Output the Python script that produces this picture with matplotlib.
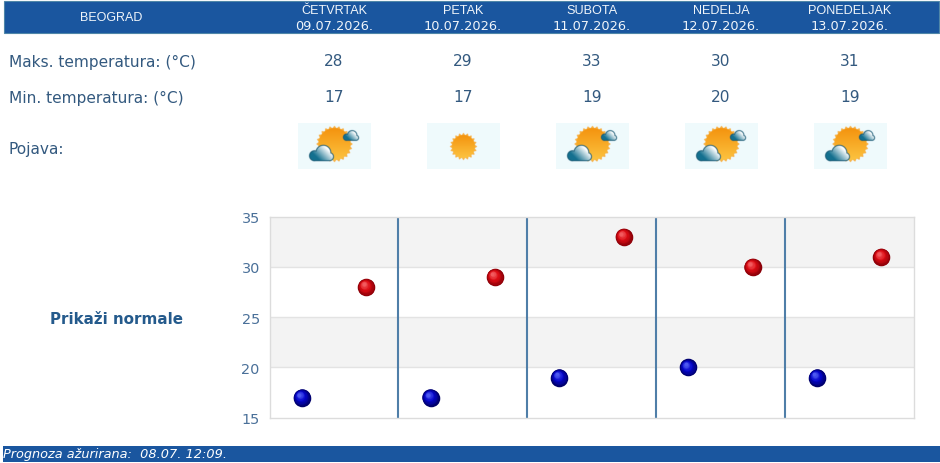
import numpy as np
import matplotlib
matplotlib.use('Agg')
import matplotlib.pyplot as plt
from matplotlib.patches import Rectangle
from matplotlib.transforms import offset_copy

city = 'BEOGRAD'
days = ['ČETVRTAK', 'PETAK', 'SUBOTA', 'NEDELJA', 'PONEDELJAK']
dates = ['09.07.2026.', '10.07.2026.', '11.07.2026.', '12.07.2026.', '13.07.2026.']
t_max = [28, 29, 33, 30, 31]
t_min = [17, 17, 19, 20, 19]
icons = ['clouds', 'sun', 'clouds', 'clouds', 'clouds']
y_ticks = [15, 20, 25, 30, 35]

BLUE = '#1a569f'
TEXT = '#33597f'
W, H = 940, 464
col_x = [334, 463, 592, 721, 850]


def mix(c1, c2, t):
    c1, c2 = np.array(c1), np.array(c2)
    return c1 + (c2 - c1) * t[..., None]


def rgb(h):
    return np.array(matplotlib.colors.to_rgb(h))


def smooth_mask(d, aa=0.5):
    # d is negative inside the shape, in pixels
    return np.clip(0.5 - d / (2 * aa), 0, 1)


def paint(img, col, alpha):
    a = alpha[..., None]
    img[..., :3] = img[..., :3] * (1 - a) + col * a
    return img


def cloud(img, X, Y, cx, cy, w):
    # dome with a lower bump each side, dark rim around a white to teal fill
    s = w / 24.0
    parts = [(-6.8, 2.7, 4.9), (1.8, -0.2, 7.3), (7.8, 3.6, 3.9)]
    d = np.full(X.shape, 1e3)
    for px, py, r in parts:
        d = np.minimum(d, np.hypot(X - (cx + px * s), Y - (cy + py * s)) - r * s)
    base = np.maximum(np.abs(X - cx) - 7.5 * s, np.abs(Y - cy - 5 * s) - 2.5 * s)
    d = np.minimum(d, base)
    paint(img, rgb('#1a5a74'), smooth_mask(d - 0.5))
    t = np.clip(((cx + 6 * s - X) * 0.8 + (Y - cy + 4 * s) * 0.8) / (15 * s), 0, 1)
    fill = mix(rgb('#ffffff'), rgb('#14708f'), t)
    a = smooth_mask(d + 0.4)[..., None]
    img[..., :3] = img[..., :3] * (1 - a) + fill * a
    return img


def make_icon(kind, w=73, h=46, ss=4):
    ys, xs = np.mgrid[0:h * ss, 0:w * ss]
    X = (xs + 0.5) / ss
    Y = (ys + 0.5) / ss
    img = np.ones((h * ss, w * ss, 3)) * rgb('#effafd')
    has_clouds = kind == 'clouds'
    cx = w / 2
    cy = 21.0 if has_clouds else 23.5
    r_body = 16.0 if has_clouds else 11.5
    ang = np.arctan2(Y - cy, X - cx)
    rr = np.hypot(X - cx, Y - cy)
    rays = r_body + 1.0 + 1.0 * np.cos(ang * (24 if has_clouds else 20))
    paint(img, rgb('#f6b24a'), smooth_mask(rr - rays))
    t = np.clip((Y - (cy - r_body)) / (2 * r_body), 0, 1)
    body = mix(rgb('#f4930e'), rgb('#fcc340'), t)
    a = smooth_mask(rr - r_body)[..., None]
    img[..., :3] = img[..., :3] * (1 - a) + body * a
    if has_clouds:
        cloud(img, X, Y, cx + 16.5, cy - 8.5, 15.5)
        cloud(img, X, Y, cx - 13, cy + 9, 24.5)
    return img


fig = plt.figure(figsize=(W / 100, H / 100), dpi=100, facecolor='white')

# page layer, one unit per pixel
page = fig.add_axes([0, 0, 1, 1])
page.set_xlim(0, W)
page.set_ylim(H, 0)
page.axis('off')

page.add_patch(Rectangle((3.5, 1.5), 935, 32, fc=BLUE, ec='#4f86a8', lw=0.8))
page.add_patch(Rectangle((3, 446.5), 937, 16, fc=BLUE, ec='none'))

page.text(111, 18, city, color='#f0f5fa', fontsize=9, family='Liberation Sans',
          ha='center', va='center')
for x, day, date in zip(col_x, days, dates):
    page.text(x, 10.5, day, color='#f0f5fa', fontsize=9.1, family='Liberation Sans',
              ha='center', va='center')
    page.text(x, 27, date, color='#f0f5fa', fontsize=9.3, ha='center', va='center')

LABEL_SIZE = 11.1
page.text(9, 62, 'Maks. temperatura: (°C)', color=TEXT, fontsize=LABEL_SIZE, va='center')
page.text(9, 98, 'Min. temperatura: (°C)', color=TEXT, fontsize=LABEL_SIZE, va='center')
page.text(9, 150, 'Pojava:', color=TEXT, fontsize=LABEL_SIZE, va='center')

for x, hi, lo, kind in zip(col_x, t_max, t_min, icons):
    page.text(x, 62, str(hi), color=TEXT, fontsize=LABEL_SIZE, ha='center', va='center')
    page.text(x, 98, str(lo), color=TEXT, fontsize=LABEL_SIZE, ha='center', va='center')
    page.imshow(make_icon(kind), extent=(x - 36.5, x + 36.5, 170.5, 124.5),
                aspect='auto', interpolation='antialiased', zorder=2)
page.set_xlim(0, W)
page.set_ylim(H, 0)

page.text(116.5, 319.5, 'Prikaži normale', color='#245a8c', fontsize=10.9,
          fontweight='bold', ha='center', va='center')
page.text(3, 455, 'Prognoza ažurirana:  08.07. 12:09.', color='white', fontsize=9.3,
          style='italic', va='center')

# temperature chart
ax = fig.add_axes([269.5 / W, 1 - 418.7 / H, 644 / W, 201 / H], facecolor='white')
n = len(days)
ax.set_xlim(0, n)
ax.set_ylim(y_ticks[0], y_ticks[-1])
ax.axhspan(20, 25, fc='#f3f3f3', ec='none', zorder=0)
ax.axhspan(30, 35, fc='#f3f3f3', ec='none', zorder=0)
for v in y_ticks[1:-1]:
    ax.axhline(v, color='#e3e3e3', lw=1, zorder=1)
for i in range(1, n):
    ax.axvline(i, color='#4f7ea8', lw=1.5, zorder=2)
for s in ax.spines.values():
    s.set_color('#dcdcdc')
    s.set_linewidth(1)
ax.set_xticks([])
ax.set_yticks(y_ticks)
ax.tick_params(axis='y', length=0, pad=7, labelcolor='#4a7099', labelsize=10.4)


def balls(xs, ys, edge, mid, light):
    # stacked discs drifting to the upper left give the shaded sphere look
    steps = 14
    for k in range(steps):
        t = k / (steps - 1)
        size = 160 * (1 - t * 0.8) ** 2
        if t < 0.55:
            col = mix(rgb(edge), rgb(mid), np.array(t / 0.55))
        else:
            col = mix(rgb(mid), rgb(light), np.array((t - 0.55) / 0.45))
        tr = offset_copy(ax.transData, fig=fig, x=-1.8 * t, y=2.2 * t, units='points')
        ax.scatter(xs, ys, s=size, color=[col], linewidths=0, transform=tr,
                   zorder=3 + k, clip_on=False)


day_idx = np.arange(n)
balls(day_idx + 0.25, t_min, '#00006a', '#0606cc', '#4c58f0')
balls(day_idx + 0.75, t_max, '#8a0008', '#dc0c14', '#f25a5e')

fig.savefig('out.png', dpi=100, facecolor='white')
